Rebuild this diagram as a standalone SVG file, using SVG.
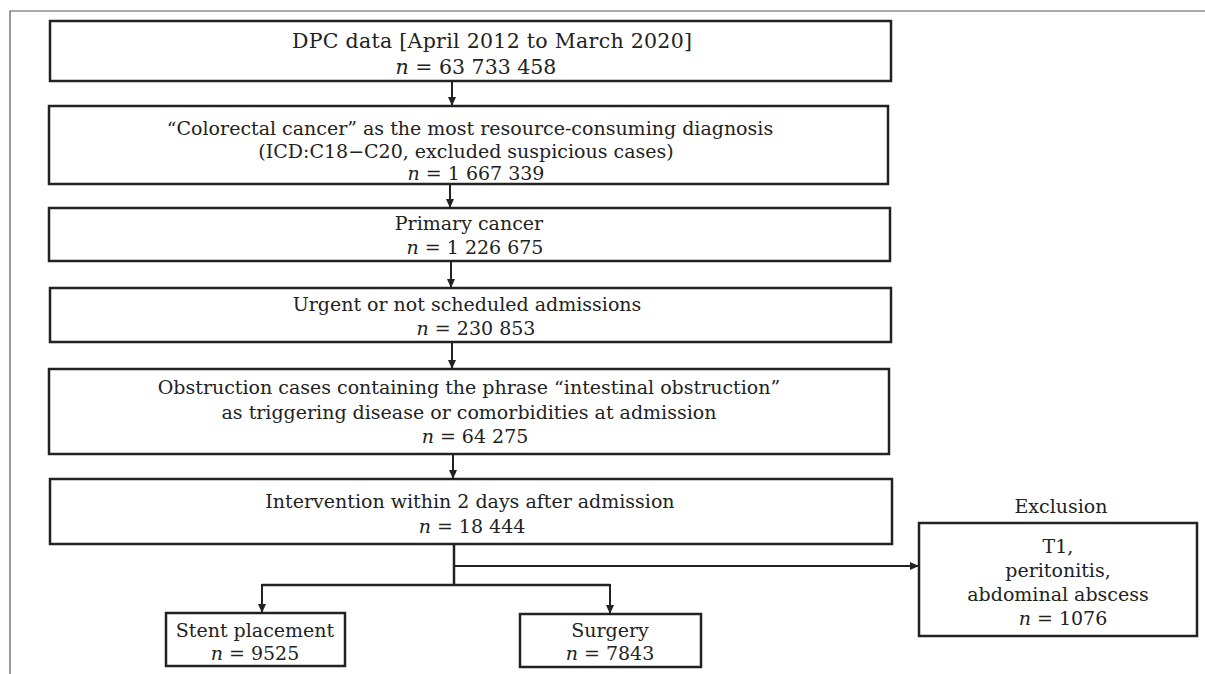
<svg xmlns="http://www.w3.org/2000/svg" width="1205" height="674" viewBox="0 0 1205 674">
<style>
.box{fill:#fff;stroke:#222;stroke-width:2.5}
.t{font-family:"DejaVu Serif","Liberation Serif",serif;font-size:19px;fill:#222;text-anchor:middle}
.big{font-size:20.5px}
.i{font-style:italic}
.c{fill:none;stroke:#222;stroke-width:2.5}
.ct{fill:none;stroke:#222;stroke-width:2}
.frame{fill:none;stroke:#555;stroke-width:1.2}
</style>
<defs>
<marker id="ah" markerUnits="userSpaceOnUse" markerWidth="10" markerHeight="10" refX="9" refY="4" orient="auto">
<path d="M0,0 L9,4 L0,8 z" fill="#222"/>
</marker>
</defs>
<rect width="1205" height="674" fill="#fff"/>
<path class="frame" d="M10,674 V11 H1205"/>
<g id="n1">
<rect class="box" x="50" y="21" width="841" height="60"/>
<text class="t big" x="492" y="48" textLength="400">DPC data [April 2012 to March 2020]</text>
<text class="t big" x="476" y="74"><tspan class="i">n</tspan> = 63 733 458</text>
</g>
<g id="n2">
<rect class="box" x="49" y="106" width="839" height="78"/>
<text class="t" x="470" y="135">“Colorectal cancer” as the most resource-consuming diagnosis</text>
<text class="t" x="466" y="158">(ICD:C18−C20, excluded suspicious cases)</text>
<text class="t" x="476" y="180"><tspan class="i">n</tspan> = 1 667 339</text>
</g>
<g id="n3">
<rect class="box" x="49" y="208" width="841" height="53"/>
<text class="t" x="469" y="230">Primary cancer</text>
<text class="t" x="475" y="254"><tspan class="i">n</tspan> = 1 226 675</text>
</g>
<g id="n4">
<rect class="box" x="50" y="288" width="841" height="54"/>
<text class="t" x="467" y="311">Urgent or not scheduled admissions</text>
<text class="t" x="476" y="335"><tspan class="i">n</tspan> = 230 853</text>
</g>
<g id="n5">
<rect class="box" x="49" y="369" width="840" height="85"/>
<text class="t" x="469" y="394">Obstruction cases containing the phrase “intestinal obstruction”</text>
<text class="t" x="469" y="419">as triggering disease or comorbidities at admission</text>
<text class="t" x="475" y="443"><tspan class="i">n</tspan> = 64 275</text>
</g>
<g id="n6">
<rect class="box" x="50" y="479" width="842" height="65"/>
<text class="t" x="470" y="508">Intervention within 2 days after admission</text>
<text class="t" x="472" y="533"><tspan class="i">n</tspan> = 18 444</text>
</g>
<g id="n7">
<rect class="box" x="166" y="613" width="179" height="53"/>
<text class="t" x="255" y="637">Stent placement</text>
<text class="t" x="255" y="660"><tspan class="i">n</tspan> = 9525</text>
</g>
<g id="n8">
<rect class="box" x="520" y="614" width="181" height="53"/>
<text class="t" x="610" y="637">Surgery</text>
<text class="t" x="610" y="660"><tspan class="i">n</tspan> = 7843</text>
</g>
<g id="n9">
<text class="t" x="1061" y="513">Exclusion</text>
<rect class="box" x="919" y="523" width="278" height="113"/>
<text class="t" x="1058" y="553">T1,</text>
<text class="t" x="1058" y="577">peritonitis,</text>
<text class="t" x="1058" y="601">abdominal abscess</text>
<text class="t" x="1063" y="625"><tspan class="i">n</tspan> = 1076</text>
</g>
<g id="connectors">
<path class="ct" d="M452,81 V106" marker-end="url(#ah)"/>
<path class="ct" d="M450,184 V208" marker-end="url(#ah)"/>
<path class="ct" d="M451,261 V288" marker-end="url(#ah)"/>
<path class="ct" d="M452,342 V369" marker-end="url(#ah)"/>
<path class="ct" d="M453,454 V479" marker-end="url(#ah)"/>
<path class="c" d="M454,544 V585"/>
<path class="c" d="M262,585 H610"/>
<path class="ct" d="M262,584 V613" marker-end="url(#ah)"/>
<path class="ct" d="M610,584 V614" marker-end="url(#ah)"/>
<path class="ct" d="M453,566 H919" marker-end="url(#ah)"/>
</g>
</svg>
